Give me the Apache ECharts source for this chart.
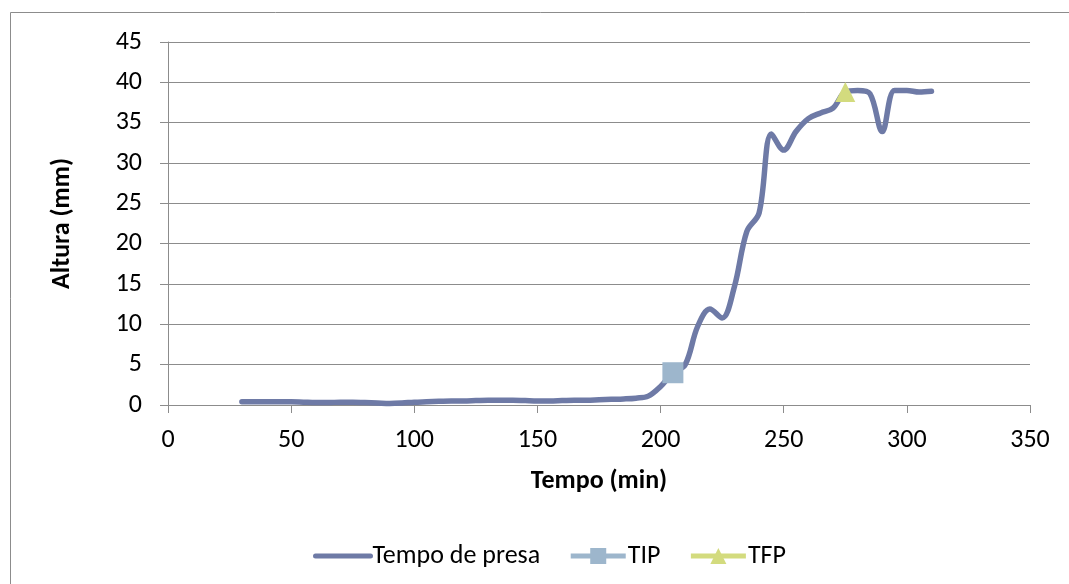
<!DOCTYPE html>
<html><head><meta charset="utf-8">
<script src="https://cdn.jsdelivr.net/npm/echarts@6/dist/echarts.min.js"></script>
<style>html,body{margin:0;padding:0;background:#fff}#c{width:1069px;height:584px}</style>
</head><body><div id="c"></div>
<script>
const tempo = [30,35,40,45,50,55,60,65,70,75,80,85,90,95,100,105,110,115,120,125,130,135,140,145,150,155,160,165,170,175,180,185,190,195,200,205,210,215,220,225,230,235,240,245,250,255,260,265,270,275,280,285,290,295,300,305,310];
const altura = [0.4,0.4,0.4,0.4,0.4,0.35,0.3,0.3,0.35,0.35,0.3,0.25,0.2,0.25,0.35,0.4,0.45,0.5,0.5,0.55,0.6,0.6,0.6,0.55,0.5,0.5,0.55,0.6,0.6,0.65,0.7,0.75,0.85,1.1,2.3,4.0,5.0,9.7,11.9,10.8,14.7,21.5,23.8,33.6,31.6,33.9,35.5,36.2,36.8,38.8,39.0,38.6,33.9,39.0,39.0,38.8,38.9];
const tip = [[205, 4.0]];
const tfp = [[275, 38.8]];
const seriesNames = ['Tempo de presa','TIP','TFP'];
const axisTitles = ['Tempo (min)','Altura (mm)'];

const chart = echarts.init(document.getElementById('c'));
const font = 'Carlito, Lato, "Liberation Sans", sans-serif';
chart.setOption({
  animation:false,
  backgroundColor:'#fff',
  graphic:[{type:'rect',shape:{x:10.5,y:12.5,width:1200,height:700},style:{fill:'none',stroke:'#8c8c8c',lineWidth:1},z:-1}],
  grid:{left:168,right:39,top:42,bottom:179},
  xAxis:{type:'value',min:0,max:350,interval:50,
    name:axisTitles[0],nameLocation:'middle',nameGap:63,
    nameTextStyle:{fontFamily:font,fontSize:26,fontWeight:'bold',color:'#000'},
    axisLine:{lineStyle:{color:'#8c8c8c'}},
    axisTick:{show:true,length:8,lineStyle:{color:'#8c8c8c'}},
    axisLabel:{fontFamily:font,fontSize:26,color:'#000',margin:22},
    splitLine:{show:false}},
  yAxis:{type:'value',min:0,max:45,interval:5,
    name:axisTitles[1],nameLocation:'middle',nameGap:93,nameRotate:90,
    nameTextStyle:{fontFamily:font,fontSize:26,fontWeight:'bold',color:'#000'},
    axisLine:{show:true,lineStyle:{color:'#8c8c8c'}},
    axisTick:{show:true,length:8,lineStyle:{color:'#8c8c8c'}},
    axisLabel:{fontFamily:font,fontSize:26,color:'#000',margin:26},
    splitLine:{lineStyle:{color:'#8c8c8c',width:1}}},
  legend:{top:538,left:308,itemWidth:55,itemHeight:20,itemGap:28,
    lineStyle:{width:5},
    textStyle:{fontFamily:font,fontSize:26,color:'#000',padding:[0,0,0,-3]},
    data:[{name:seriesNames[0],itemStyle:{color:'rgba(0,0,0,0)',borderWidth:0}},seriesNames[1],seriesNames[2]]},
  series:[
    {name:seriesNames[0],type:'line',smooth:0.35,showSymbol:false,symbol:'none',
     data:tempo.map((t,i)=>[t,altura[i]]),
     lineStyle:{color:'#6E7AA6',width:5.5,cap:'round'},itemStyle:{color:'#6E7AA6'},z:2},
    {name:seriesNames[1],type:'line',symbol:'rect',symbolSize:21,data:tip,
     lineStyle:{color:'#9DB6CC',width:5},itemStyle:{color:'#9DB6CC'},z:3},
    {name:seriesNames[2],type:'line',symbol:'triangle',symbolSize:20,data:tfp,
     lineStyle:{color:'#D3DB7E',width:5},itemStyle:{color:'#D3DB7E'},z:3}
  ]
});
</script></body></html>
